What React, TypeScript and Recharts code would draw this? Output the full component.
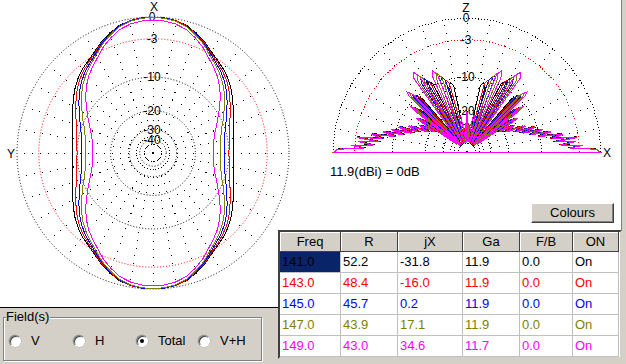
import React from "react";
import { PolarAngleAxis, PolarGrid, PolarRadiusAxis, Radar, RadarChart } from "recharts";

const FONT = "'Liberation Sans', Arial, sans-serif";
const PANEL = "#d4d0c8";

// frequency sweep, one entry per row / trace
const FREQS = ["141.0", "143.0", "145.0", "147.0", "149.0"];
const R_OHMS = ["52.2", "48.4", "45.7", "43.9", "43.0"];
const JX_OHMS = ["-31.8", "-16.0", "0.2", "17.1", "34.6"];
const GAIN_DBI = ["11.9", "11.9", "11.9", "11.9", "11.7"];
const FB_DB = ["0.0", "0.0", "0.0", "0.0", "0.0"];
const ON_FLAGS = ["On", "On", "On", "On", "On"];
const COLORS = ["#000000", "#ff0000", "#0000ff", "#808000", "#ff00ff"];
const HEADERS = ["Freq", "R", "jX", "Ga", "F/B", "ON"];

const BLACK_RING_DB = [0, -10, -20, -30, -40];
const RED_RING_DB = [-3];

// azimuth plot, one quadrant (pattern is symmetric), dB
const AZ_ANGLES = [0, 5, 10, 15, 20, 25, 30, 35, 40, 45, 50, 55, 60, 65, 70, 75, 80, 85, 90];
const AZ_141 = [0, -0.05, -0.2, -0.55, -1.15, -1.8, -2.6, -3.2, -3.7, -4.3, -5.0, -5.8, -6.6, -7.3, -8.0, -8.5, -8.8, -9.0, -9.1];
const AZ_143 = [0, -0.05, -0.2, -0.6, -1.25, -1.9, -2.75, -3.4, -4.0, -4.65, -5.45, -6.35, -7.25, -8.05, -8.8, -9.35, -9.7, -9.9, -10.0];
const AZ_145 = [0, -0.05, -0.25, -0.65, -1.3, -2.0, -2.9, -3.65, -4.3, -5.1, -6.0, -7.0, -8.0, -8.9, -9.75, -10.35, -10.75, -11.0, -11.1];
const AZ_147 = [-0.05, -0.1, -0.3, -0.7, -1.4, -2.15, -3.1, -3.9, -4.65, -5.5, -6.5, -7.6, -8.7, -9.7, -10.65, -11.3, -11.7, -12.0, -12.1];
const AZ_149 = [-0.4, -0.45, -0.65, -1.05, -1.75, -2.55, -3.55, -4.4, -5.25, -6.3, -7.5, -8.8, -10.1, -11.25, -12.3, -13.1, -13.6, -13.9, -14.0];

// elevation plot, horizon (0) to zenith (90), mirrored to 180
const EL_ANG_141 = [0, 1.3, 2.3, 3.4, 4.4, 5.8, 6.9, 7.9, 9.5, 11.1, 12.7, 14.3, 15.9, 17.5, 19.6, 21.2, 23.3, 24.8, 25.5, 26.3, 28.1, 30.0, 30.8, 31.6, 33.5, 35.4, 36.2, 37.0, 38.9, 40.9, 41.7, 42.5, 44.4, 47.2, 48.4, 50.1, 54, 59.0, 61.2, 63.5, 68.9, 74.4, 76.7, 78.6, 83, 90];
const EL_DB_141 = [-0.1, -0.5, -4.8, -2.6, -6.3, -3.7, -7.4, -3.4, -8, -5.8, -10.5, -7.9, -12.5, -9.5, -14.8, -11.2, -16.7, -14.5, -13.7, -14.5, -19.7, -17.4, -16.6, -17.4, -22.5, -16, -15, -16, -41, -13.6, -12.6, -13.6, -46, -11.2, -10.2, -11.2, -46, -9.7, -8.7, -9.7, -46, -11.8, -10.8, -11.8, -40, -24];
const EL_ANG_143 = [0, 1.25, 2.3, 3.3, 4.4, 5.7, 6.8, 7.8, 9.4, 10.9, 12.5, 14.1, 15.6, 17.2, 19.3, 20.9, 23, 24.5, 25.1, 25.9, 27.7, 29.5, 30.3, 31.1, 32.9, 34.8, 35.6, 36.4, 38.3, 40.1, 40.9, 41.7, 43.6, 46.3, 47.5, 49.1, 52.9, 57.7, 59.8, 61.9, 66.9, 71.7, 73.7, 75.6, 80, 85, 90];
const EL_DB_143 = [-0.1, -0.5, -4.7, -2.6, -6.2, -3.6, -7.3, -3.3, -7.9, -5.7, -10.4, -7.8, -12.4, -9.4, -14.6, -11, -16.5, -14.2, -13.4, -14.2, -19.5, -17.2, -16.4, -17.2, -22.2, -15.6, -14.6, -15.6, -40.8, -13, -12, -13, -45.8, -10.6, -9.6, -10.6, -45.8, -9, -8, -9, -45.8, -11, -10, -11, -40, -30, -23];
const EL_ANG_145 = [0, 1.2, 2.3, 3.3, 4.3, 5.65, 6.7, 7.7, 9.3, 10.8, 12.35, 13.9, 15.4, 17, 19.05, 20.6, 22.65, 24.1, 24.7, 25.5, 27.3, 29.1, 29.9, 30.7, 32.5, 34.3, 35.1, 35.9, 37.7, 39.5, 40.3, 41.1, 42.9, 45.5, 46.6, 48.2, 51.9, 56.5, 58.4, 60.4, 65.2, 69.4, 71.2, 73.2, 78, 84, 90];
const EL_DB_145 = [-0.1, -0.5, -4.6, -2.5, -6.1, -3.6, -7.2, -3.3, -7.7, -5.6, -10.2, -7.7, -12.2, -9.2, -14.4, -10.8, -16.3, -14, -13.2, -14, -19.3, -17, -16.2, -17, -22, -15.2, -14.2, -15.2, -40.5, -12.5, -11.5, -12.5, -45.5, -10, -9, -10, -45.5, -8.2, -7.2, -8.2, -45.5, -10, -9, -10, -38, -42, -21.5];
const EL_ANG_147 = [0, 1.2, 2.2, 3.25, 4.25, 5.6, 6.6, 7.6, 9.1, 10.65, 12.2, 13.7, 15.2, 16.7, 18.75, 20.3, 22.3, 23.7, 24.3, 25.1, 26.9, 28.7, 29.4, 30.2, 32, 33.8, 34.5, 35.3, 37.1, 38.9, 39.6, 40.4, 42.2, 44.7, 45.8, 47.3, 50.9, 55.3, 57.2, 59.1, 63.5, 67.3, 68.9, 71.3, 77, 84, 90];
const EL_DB_147 = [-0.1, -0.5, -4.5, -2.5, -6, -3.5, -7.1, -3.2, -7.6, -5.5, -10.1, -7.6, -12.1, -9.1, -14.2, -10.6, -16, -13.7, -12.9, -13.7, -19, -16.7, -15.9, -16.7, -21.7, -14.8, -13.8, -14.8, -40.2, -12, -11, -12, -45.2, -9.4, -8.4, -9.4, -45.2, -7.5, -6.5, -7.5, -45.2, -9, -8, -9, -45, -35, -21];
const EL_ANG_149 = [0, 1.2, 2.2, 3.2, 4.2, 5.5, 6.5, 7.5, 9, 10.5, 12, 13.5, 15, 16.5, 18.5, 20, 22, 23.4, 24, 24.8, 26.5, 28.3, 29, 29.8, 31.5, 33.3, 34, 34.8, 36.5, 38.3, 39, 39.8, 41.5, 44, 45, 46.5, 50, 54.2, 56, 57.8, 62, 65.5, 67, 69.1, 74, 77.5, 79, 80.5, 84, 90];
const EL_DB_149 = [-0.2, -0.6, -4.5, -2.5, -6, -3.5, -7, -3.2, -7.5, -5.5, -10, -7.5, -12, -9, -14, -10.5, -15.8, -13.5, -12.7, -13.5, -18.8, -16.5, -15.7, -16.5, -21.5, -14.5, -13.5, -14.5, -40, -11.5, -10.5, -11.5, -45, -8.8, -7.8, -8.8, -45, -6.7, -5.7, -6.7, -45, -8.2, -7.2, -8.2, -45, -23, -22, -23, -45, -20.5];

const AZ_SPOKES = Array.from({ length: 36 }, (_, i) => i * 10);
const EL_SPOKES = Array.from({ length: 19 }, (_, i) => i * 10);

// ARRL log scale: 2 dB per 0.89 step of radius
const arrl = (db: number) => Math.pow(0.89, -db / 2);
const toDb = (v: number) => Math.round((2 * Math.log(v)) / Math.log(0.89)) * -1 || 0;

type Row = { ang: number; v: number };

// full circle from one quadrant
function azimuthRows(values: number[]): Row[] {
  const rows = new Map<number, Row>();
  AZ_ANGLES.forEach((a, i) => {
    for (const ang of [a, 180 - a, 180 + a, (360 - a) % 360]) rows.set(ang, { ang, v: arrl(values[i]) });
  });
  return [...rows.values()].sort((p, q) => p.ang - q.ang);
}

// horizon to horizon from one quarter
function elevationRows(angles: number[], values: number[]): Row[] {
  const rows = new Map<number, Row>();
  angles.forEach((e, i) => {
    for (const ang of [e, +(180 - e).toFixed(2)]) rows.set(ang, { ang, v: arrl(values[i]) });
  });
  return [...rows.values()].sort((p, q) => p.ang - q.ang);
}

const azSeries = [AZ_141, AZ_143, AZ_145, AZ_147, AZ_149].map(azimuthRows);
const elSeries = [
  elevationRows(EL_ANG_141, EL_DB_141),
  elevationRows(EL_ANG_143, EL_DB_143),
  elevationRows(EL_ANG_145, EL_DB_145),
  elevationRows(EL_ANG_147, EL_DB_147),
  elevationRows(EL_ANG_149, EL_DB_149)
];

const ringTick = (p: any) => (
  <text x={p.x - 1} y={p.y + 4.3} textAnchor="middle" fontSize={12} fontFamily={FONT} fill="#000">
    {toDb(Number(p.payload?.value))}
  </text>
);

type PlotProps = {
  series: Row[][];
  width: number;
  height: number;
  cx: number;
  cy: number;
  radius: number;
  start: number;
  end: number;
  span: number;
  spokes: number[];
  grid: "circle" | "polygon";
};

const layer: React.CSSProperties = { position: "absolute", left: 0, top: 0 };

// stacked layers: black rings + spokes, red -3 dB ring, then one chart per trace
function PatternPlot(p: PlotProps) {
  const common = {
    width: p.width,
    height: p.height,
    cx: p.cx,
    cy: p.cy,
    innerRadius: 0,
    outerRadius: p.radius,
    startAngle: p.start,
    endAngle: p.end,
    margin: { top: 0, right: 0, bottom: 0, left: 0 }
  };
  const angleAxis = (
    <PolarAngleAxis dataKey="ang" type="number" domain={[0, p.span]} ticks={p.spokes} tick={false} axisLine={false} tickLine={false} />
  );
  const hidden = <Radar dataKey="v" stroke="none" fill="none" dot={false} isAnimationActive={false} />;
  return (
    <div style={{ position: "relative", width: p.width, height: p.height }}>
      <div style={layer}>
        <RadarChart {...common} data={p.series[0]}>
          {angleAxis}
          <PolarRadiusAxis angle={90} type="number" domain={[0, 1]} ticks={BLACK_RING_DB.map(arrl)} tick={ringTick} axisLine={false} tickLine={false} />
          <PolarGrid gridType={p.grid} radialLines={false} stroke="#000" strokeDasharray="1 2" />
          <PolarGrid gridType={p.grid} polarRadius={[]} stroke="#000" strokeDasharray="1 7" />
          {hidden}
        </RadarChart>
      </div>
      <div style={layer}>
        <RadarChart {...common} data={p.series[0]}>
          {angleAxis}
          <PolarRadiusAxis angle={90} type="number" domain={[0, 1]} ticks={RED_RING_DB.map(arrl)} tick={ringTick} axisLine={false} tickLine={false} />
          <PolarGrid gridType={p.grid} radialLines={false} stroke="#ff0000" strokeDasharray="1 2" />
          {hidden}
        </RadarChart>
      </div>
      {p.series.map((rows, i) => (
        <div key={i} style={layer}>
          <RadarChart {...common} data={rows}>
            {angleAxis}
            <PolarRadiusAxis angle={90} type="number" domain={[0, 1]} tick={false} axisLine={false} tickLine={false} />
            <Radar dataKey="v" stroke={COLORS[i]} strokeWidth={1} fill="none" dot={false} isAnimationActive={false} />
          </RadarChart>
        </div>
      ))}
    </div>
  );
}

function SweepTable() {
  const widths = [61, 57, 65, 57, 53, 46];
  const cols = [FREQS, R_OHMS, JX_OHMS, GAIN_DBI, FB_DB, ON_FLAGS];
  return (
    <div
      style={{
        position: "absolute",
        left: 278,
        top: 230,
        width: 344,
        height: 129,
        boxSizing: "border-box",
        borderStyle: "solid",
        borderWidth: 2,
        borderColor: "#404040 #d4d0c8 #d4d0c8 #404040",
        background: "#fff",
        fontSize: 13
      }}
    >
      <div style={{ display: "flex", height: 20 }}>
        {HEADERS.map((h, j) => (
          <div
            key={h}
            style={{
              width: widths[j],
              height: 20,
              boxSizing: "border-box",
              background: PANEL,
              borderRight: "1px solid #404040",
              borderBottom: "1px solid #404040",
              boxShadow: "inset 1px 1px #fff",
              textAlign: "center",
              lineHeight: "19px"
            }}
          >
            {h}
          </div>
        ))}
      </div>
      {FREQS.map((_, r) => (
        <div key={r} style={{ display: "flex", height: 21 }}>
          {cols.map((col, j) => (
            <div
              key={j}
              style={{
                width: widths[j],
                height: 21,
                boxSizing: "border-box",
                borderRight: "1px solid #c0c0c0",
                borderBottom: "1px solid #c0c0c0",
                paddingLeft: 2,
                lineHeight: "20px",
                color: COLORS[r],
                background: r === 0 && j === 0 ? "#0a246a" : "#fff",
                whiteSpace: "nowrap"
              }}
            >
              {col[r]}
            </div>
          ))}
        </div>
      ))}
    </div>
  );
}

function Radio({ x, label, on }: { x: number; label: string; on?: boolean }) {
  return (
    <>
      <div
        style={{
          position: "absolute",
          left: x,
          top: 335,
          width: 12,
          height: 12,
          boxSizing: "border-box",
          borderRadius: "50%",
          background: "#fff",
          border: "1px solid",
          borderColor: "#808080 #fff #fff #808080",
          boxShadow: "inset 1px 1px #404040, 0 0 0 0.5px #b0b0b0"
        }}
      >
        {on && (
          <div style={{ position: "absolute", left: 3, top: 3, width: 4, height: 4, borderRadius: "50%", background: "#000" }} />
        )}
      </div>
      <div style={{ position: "absolute", left: x + 22, top: 333, fontSize: 13, lineHeight: "16px" }}>{label}</div>
    </>
  );
}

export default function App() {
  return (
    <div
      style={{
        position: "fixed",
        left: 0,
        top: 0,
        width: 626,
        height: 364,
        background: PANEL,
        overflow: "hidden",
        fontFamily: FONT
      }}
    >
      <style>{".recharts-surface path, .recharts-surface line { shape-rendering: crispEdges; }"}</style>
      <div
        style={{
          position: "absolute",
          left: 0,
          top: 0,
          width: 622,
          height: 308,
          boxSizing: "border-box",
          background: "#fff",
          borderBottom: "1px solid #000",
          borderRight: "1px solid #808080"
        }}
      />
      <div style={{ position: "absolute", left: 0, top: 0 }}>
        <PatternPlot series={azSeries} width={310} height={306} cx={153} cy={153} radius={136} start={90} end={-270} span={360} spokes={AZ_SPOKES} grid="circle" />
      </div>
      <div style={{ position: "absolute", left: 318, top: 0 }}>
        <PatternPlot series={elSeries} width={300} height={160} cx={149} cy={152} radius={134} start={0} end={180} span={180} spokes={EL_SPOKES} grid="polygon" />
      </div>
      <svg width={626} height={364} style={{ position: "absolute", left: 0, top: 0, pointerEvents: "none" }} fontFamily={FONT} fontSize={12}>
        <text x={154} y={11} textAnchor="middle">X</text>
        <text x={11} y={158} textAnchor="middle">Y</text>
        <text x={466} y={11.5} textAnchor="middle">Z</text>
        <text x={607} y={157} textAnchor="middle">X</text>
        <text x={330} y={176} fontSize={13}>11.9(dBi) = 0dB</text>
      </svg>
      <div
        style={{
          position: "absolute",
          left: 531,
          top: 203,
          width: 83,
          height: 20,
          boxSizing: "border-box",
          background: PANEL,
          borderStyle: "solid",
          borderWidth: 1,
          borderColor: "#fff #404040 #404040 #fff",
          boxShadow: "inset -1px -1px #808080",
          textAlign: "center",
          lineHeight: "18px",
          fontSize: 13
        }}
      >
        Colours
      </div>
      <SweepTable />
      <div
        style={{
          position: "absolute",
          left: 3,
          top: 317,
          width: 259,
          height: 44,
          boxSizing: "border-box",
          border: "1px solid #808080",
          boxShadow: "inset 1px 1px #fff, 1px 1px #fff"
        }}
      />
      <div style={{ position: "absolute", left: 6, top: 309, fontSize: 13, lineHeight: "16px", background: PANEL, paddingRight: 1 }}>
        Field(s)
      </div>
      <Radio x={9} label="V" />
      <Radio x={73} label="H" />
      <Radio x={136} label="Total" on />
      <Radio x={198} label="V+H" />
    </div>
  );
}
